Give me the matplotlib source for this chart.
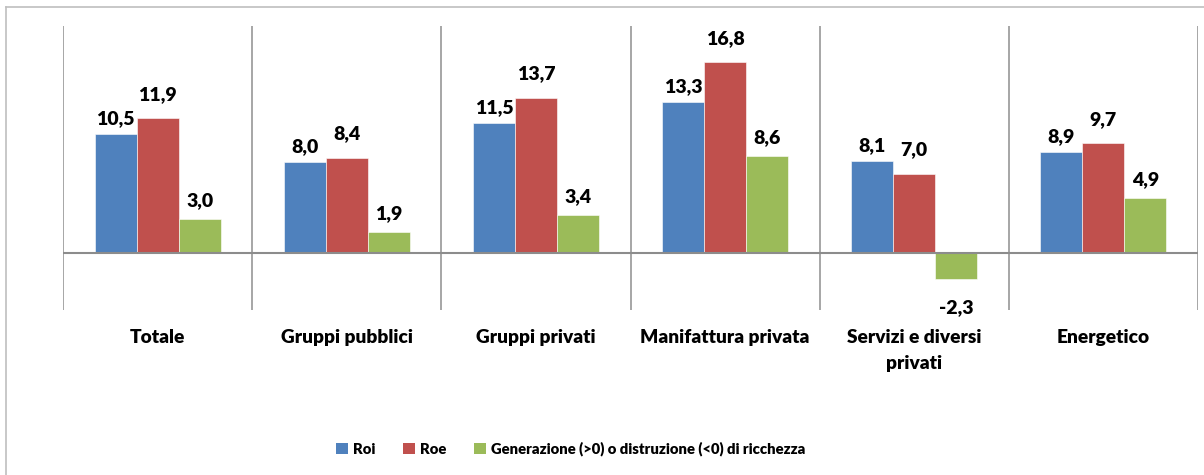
import matplotlib.pyplot as plt
from matplotlib.patches import Patch
from matplotlib.lines import Line2D
import numpy as np

categories = ['Totale', 'Gruppi pubblici', 'Gruppi privati', 'Manifattura privata',
              'Servizi e diversi\nprivati', 'Energetico']
roi = [10.5, 8.0, 11.5, 13.3, 8.1, 8.9]
roe = [11.9, 8.4, 13.7, 16.8, 7.0, 9.7]
ricchezza = [3.0, 1.9, 3.4, 8.6, -2.3, 4.9]
series_names = ['Roi', 'Roe', 'Generazione (>0) o distruzione (<0) di ricchezza']

colors = ['#4F81BD', '#C0504D', '#9BBB59']
label_gap = [5, 11, 7]  # points above bar top, per series

plt.rcParams['font.family'] = ['Lato', 'DejaVu Sans']
W = 'heavy'

fig = plt.figure(figsize=(12.04, 4.75), dpi=100)
ax = fig.add_axes([63 / 1204, 1 - 310 / 475, (1198 - 63) / 1204, (310 - 26) / 475])

x = np.arange(len(categories)) + 0.5
width = 0.222
for k, vals in enumerate([roi, roe, ricchezza]):
    pos = x + (k - 1) * width
    ax.bar(pos, vals, width, color=colors[k], edgecolor='white', linewidth=0.4, zorder=3)
    for xp, v in zip(pos, vals):
        txt = f'{v:.1f}'.replace('.', ',')
        if v >= 0:
            ax.annotate(txt, (xp, v), xytext=(0, label_gap[k]), textcoords='offset points',
                        ha='center', va='bottom', fontsize=14, fontweight=W)
        else:
            ax.annotate(txt, (xp, v), xytext=(0, -14), textcoords='offset points',
                        ha='center', va='top', fontsize=14, fontweight=W)

ax.set_xlim(0, len(categories))
ax.set_ylim(-5, 20)
for xv in range(len(categories) + 1):
    ax.axvline(xv, color='#A6A6A6', linewidth=1.4, zorder=1)
ax.axhline(0, color='#8C8C8C', linewidth=1.5, zorder=4)

for s in ax.spines.values():
    s.set_visible(False)
ax.set_yticks([])
ax.set_xticks(x)
ax.set_xticklabels(categories, fontsize=13.8, fontweight=W, linespacing=1.6)
ax.tick_params(axis='x', length=0, pad=14)

# outer frame (left and top edges)
fig.add_artist(Line2D([6 / 1204, 6 / 1204], [0, 1 - 7 / 475], color='#BFBFBF',
                      linewidth=1.2, transform=fig.transFigure))
fig.add_artist(Line2D([6 / 1204, 1], [1 - 7 / 475, 1 - 7 / 475], color='#BFBFBF',
                      linewidth=1.2, transform=fig.transFigure))

handles = [Patch(facecolor=c, edgecolor='none') for c in colors]
fig.legend(handles, series_names, loc='center', bbox_to_anchor=(0.474, 1 - 449 / 475),
           ncol=3, frameon=False, handlelength=0.8, handleheight=0.8,
           handletextpad=0.3, columnspacing=1.9, prop={'weight': W, 'size': 10.7})

fig.savefig('out.png', dpi=100)
